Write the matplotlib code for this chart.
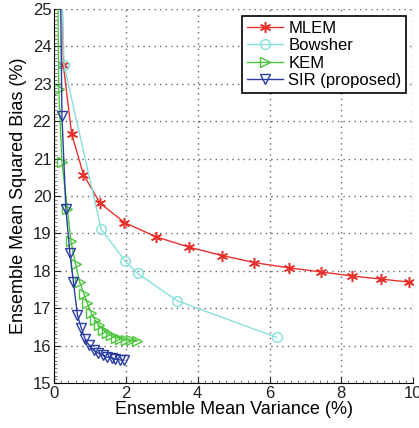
import matplotlib
matplotlib.use('Agg')
import matplotlib.pyplot as plt
from matplotlib.ticker import AutoMinorLocator

plt.rcParams['font.family'] = ['Liberation Sans', 'DejaVu Sans']

# data (first point of each curve is above the plot)
mlem_x = [0.18, 0.26, 0.49, 0.82, 1.28, 1.96, 2.84, 3.77, 4.68, 5.58, 6.54, 7.44, 8.31, 9.10, 9.88]
mlem_y = [27.5, 23.49, 21.66, 20.57, 19.81, 19.29, 18.91, 18.63, 18.41, 18.22, 18.08, 17.97, 17.86, 17.78, 17.70]

bow_x = [0.17, 0.28, 1.31, 1.98, 2.33, 3.43, 6.20]
bow_y = [27.0, 23.49, 19.12, 18.26, 17.93, 17.20, 16.22]

kem_x = [0.08, 0.13, 0.22, 0.37, 0.47, 0.60, 0.71, 0.83, 0.93, 1.04, 1.14, 1.25, 1.36, 1.48,
         1.59, 1.73, 1.85, 1.99, 2.15, 2.32]
kem_y = [28.0, 22.86, 20.90, 19.65, 18.80, 18.18, 17.71, 17.39, 17.13, 16.86, 16.68, 16.54,
         16.43, 16.34, 16.28, 16.21, 16.19, 16.16, 16.14, 16.13]

sir_x = [0.14, 0.22, 0.33, 0.44, 0.54, 0.65, 0.76, 0.86, 0.97, 1.11, 1.23, 1.36, 1.48, 1.60,
         1.71, 1.83, 1.94]
sir_y = [29.0, 22.13, 19.65, 18.49, 17.70, 16.82, 16.47, 16.19, 16.02, 15.88, 15.80, 15.74,
         15.69, 15.67, 15.64, 15.62, 15.61]

fig = plt.figure(figsize=(4.19, 4.28), dpi=100)
ax = fig.add_axes([0.129, 0.105, 0.857, 0.874])

# asterisk marker like matlab's '*'
ax.plot(mlem_x, mlem_y, '-', marker=(6, 2, 0), color='#e8312c', ms=8, mew=1.1, lw=1.0, label='MLEM')
ax.plot(bow_x, bow_y, '-o', color='#86e0dc', ms=7, mfc='none', mew=1.0, lw=1.0, label='Bowsher')
ax.plot(kem_x, kem_y, '->', color='#4cc63c', ms=7, mfc='none', mew=1.0, lw=1.0, label='KEM')
ax.plot(sir_x, sir_y, '-v', color='#2a3da0', ms=7, mfc='none', mew=1.0, lw=1.0, label='SIR (proposed)')

ax.set_xlim(0, 10)
ax.set_ylim(15, 25)
ax.set_xticks(range(0, 11, 2))
ax.set_yticks(range(15, 26))
ax.xaxis.set_minor_locator(AutoMinorLocator(10))
ax.yaxis.set_minor_locator(AutoMinorLocator(10))
ax.tick_params(which='both', direction='in', labelsize=12, colors='#222222', pad=2)
ax.tick_params(which='major', length=4)
ax.tick_params(which='minor', length=2, color='#666666')
ax.spines['top'].set_visible(False)
ax.spines['right'].set_visible(False)
ax.grid(True, which='major', linestyle=(0, (1, 3)), color='#666666', lw=1.0)

ax.set_xlabel('Ensemble Mean Variance (%)', fontsize=13, labelpad=0)
ax.set_ylabel('Ensemble Mean Squared Bias (%)', fontsize=13, labelpad=4)

leg = ax.legend(loc='upper right', fontsize=12, fancybox=False, framealpha=1,
                edgecolor='black', borderpad=0.3, labelspacing=0.15, handlelength=2.2,
                handletextpad=0.3, borderaxespad=0.4)
leg.get_frame().set_linewidth(1.2)

fig.savefig('out.png', dpi=100)
